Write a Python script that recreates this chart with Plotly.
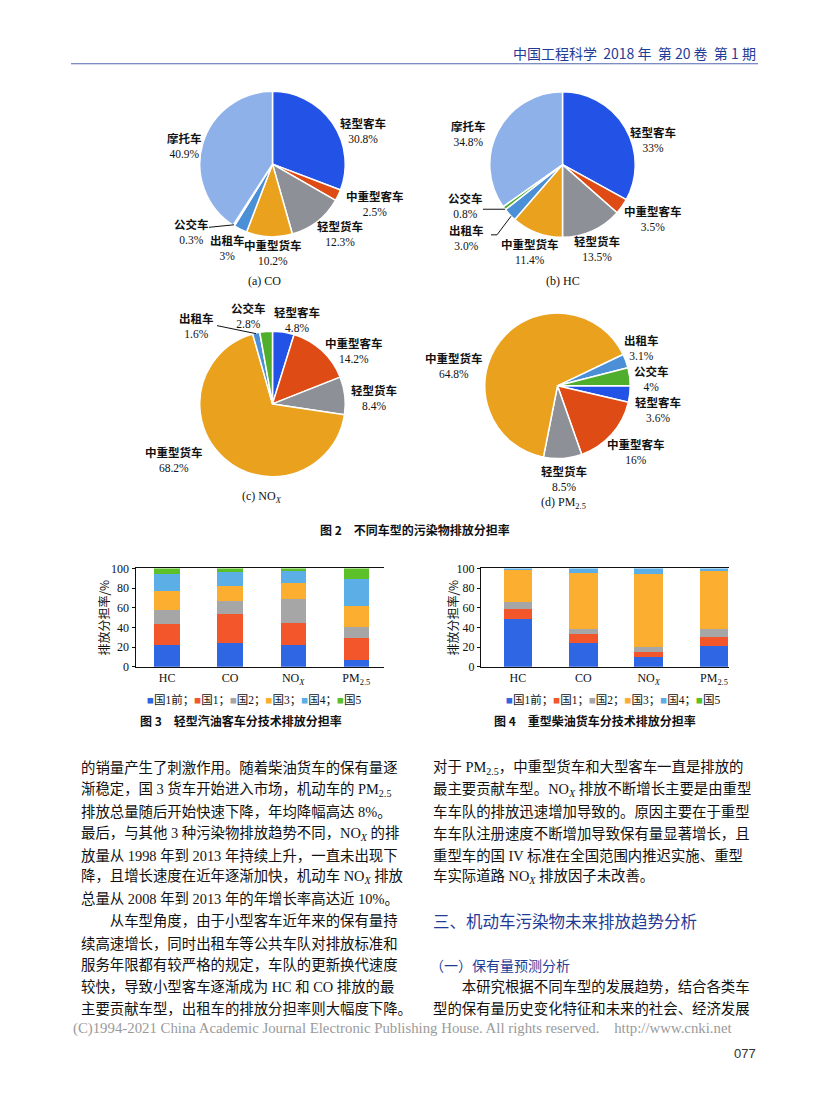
import plotly.graph_objects as go

W, H = 827, 1102

# ---------------- data ----------------
veh7 = ["轻型客车", "中重型客车", "轻型货车", "中重型货车", "出租车", "公交车", "摩托车"]
veh6 = veh7[:6]
co_share = [30.8, 2.5, 12.3, 10.2, 3, 0.3, 40.9]
hc_share = [33, 3.5, 13.5, 11.4, 3.0, 0.8, 34.8]
nox_share = [4.8, 14.2, 8.4, 68.2, 1.6, 2.8]
pm_share = [3.6, 16, 8.5, 64.8, 3.1, 4]

pollutants = ["HC", "CO", "NOX", "PM2.5"]
pollutant_ticks = ["HC", "CO", "NO<sub><i>X</i></sub>", "PM<sub>2.5</sub>"]
stages = ["国1前", "国1", "国2", "国3", "国4", "国5"]
# Fig 3: light gasoline passenger cars (by stage, per pollutant HC, CO, NOX, PM2.5)
gas_g1pre = [22, 24, 22, 7]
gas_g1 = [21, 30, 23, 22]
gas_g2 = [15, 13, 24, 11]
gas_g3 = [19, 15, 16, 22]
gas_g4 = [17, 14, 12, 27]
gas_g5 = [6, 4, 3, 11]
# Fig 4: heavy diesel trucks
die_g1pre = [49, 24, 10, 21]
die_g1 = [10, 9, 5, 9]
die_g2 = [7, 5, 5, 8]
die_g3 = [32, 57, 74, 59]
die_g4 = [2, 5, 6, 3]
die_g5 = [0, 0, 0, 0]
y_ticks = [0, 20, 40, 60, 80, 100]

# ---------------- styles ----------------
veh_colors = ["#2253e6", "#df4b14", "#8d9197", "#eaa11d", "#4b8fd6", "#4fae2c", "#8eb1ea"]
stage_colors = ["#2f66e3", "#f4562c", "#a6a6a6", "#fbae2f", "#5caee6", "#5cc129"]
SERIF = "Liberation Serif, Noto Sans CJK SC"
SANS = "Noto Sans CJK SC"

# page-placement correction (target pixel -> layout pixel)
DX = 7.0
YA, YB = 0.984, 16.4


def px(x):
    return (x - DX) / W


def py(y):
    return 1 - ((y - YB) / YA) / H


fig = go.Figure()


def add_pie(values, labels, cx, cy, r, rotation):
    ry = r / YA
    fig.add_trace(go.Pie(
        values=values, labels=labels, sort=False, direction="clockwise",
        rotation=rotation, textinfo="none", hoverinfo="label+percent",
        marker=dict(colors=veh_colors[:len(values)], line=dict(color="white", width=1.5)),
        domain=dict(x=[px(cx - ry), px(cx + ry)], y=[py(cy + r), py(cy - r)]),
        showlegend=False,
    ))


add_pie(co_share, veh7, 271.5, 165, 72.5, 0)
add_pie(hc_share, veh7, 561.5, 165.5, 72.5, 0)
add_pie(nox_share, veh6, 271.5, 404, 72.5, 0)
add_pie(pm_share, veh6, 556.5, 386, 72.5, 90)

annotations = []


def txt(x, y, s, size=12, family=SERIF, color="#111", xanchor="center", **kw):
    if xanchor == "left":
        x -= 2
    elif xanchor == "right":
        x += 2
    annotations.append(dict(x=px(x), y=py(y), xref="paper", yref="paper", text=s,
                            showarrow=False, xanchor=xanchor, yanchor="middle",
                            font=dict(size=size, family=family, color=color), **kw))


def fmt(v):
    return f"{v}%"


pie_label_pos = {
    "co": [(362, 132), (374, 204.5), (339, 235), (272, 254), (226, 248.5), (190, 232.5), (183, 147)],
    "hc": [(652, 140.5), (652, 220), (596, 250), (528.5, 252.5), (465.5, 239), (465, 206.5), (467.5, 135)],
    "nox": [(296, 320), (353, 351.5), (373, 398.5), (173, 459.5), (195, 326.5), (247, 316.5)],
    "pm": [(657, 410), (635, 451.5), (563, 479), (453, 366.5), (640, 348), (650, 379.5)],
}
for key, vals, labs in [("co", co_share, veh7), ("hc", hc_share, veh7),
                        ("nox", nox_share, veh6), ("pm", pm_share, veh6)]:
    for (x, y), v, lab in zip(pie_label_pos[key], vals, labs):
        txt(x, y, f"<b>{lab}</b><br>{fmt(v)}", size=11.5)

# pie captions
txt(263, 282, "(a) CO", size=12)
txt(562, 282, "(b) HC", size=12)
txt(261, 497, "(c) NO<sub><i>X</i></sub>", size=12)
txt(562, 503, "(d) PM<sub>2.5</sub>", size=12)
txt(414, 529, "<b>图 2　不同车型的污染物排放分担率</b>", size=12, family=SANS)

# leader lines
shapes = []


def seg(x0, y0, x1, y1, color="#111"):
    shapes.append(dict(type="line", xref="paper", yref="paper", x0=px(x0), y0=py(y0),
                       x1=px(x1), y1=py(y1), line=dict(color=color, width=1)))


seg(208, 228, 233, 225.5)
seg(482, 210, 504, 210)
seg(490, 235.5, 496, 235.5)
seg(496, 235.5, 510, 217)
seg(216, 326, 255, 334)

# header
txt(755, 54, "中国工程科学  2018 年  第 20 卷  第 1 期", size=14, family=SANS,
    color="#1f3c97", xanchor="right")
seg(70, 65, 757, 65, color="#5266b0")

# ---------------- stacked bars ----------------
gas = [gas_g1pre, gas_g1, gas_g2, gas_g3, gas_g4, gas_g5]
die = [die_g1pre, die_g1, die_g2, die_g3, die_g4, die_g5]
xs = list(range(len(pollutants)))
for i, st in enumerate(stages):
    fig.add_trace(go.Bar(x=xs, y=gas[i], name=st, marker=dict(color=stage_colors[i], line=dict(width=0)),
                         width=0.4, xaxis="x", yaxis="y", showlegend=False))
    fig.add_trace(go.Bar(x=xs, y=die[i], name=st, marker=dict(color=stage_colors[i], line=dict(width=0)),
                         width=0.44, xaxis="x2", yaxis="y2", showlegend=False))

axis_font = dict(family=SERIF, size=12, color="#111")
xcommon = dict(tickvals=xs, ticktext=pollutant_ticks, showline=True, linecolor="#111",
               linewidth=1, mirror=True, ticks="", tickfont=axis_font, showgrid=False,
               zeroline=False, fixedrange=True)
ycommon = dict(range=[0, 100], tickvals=y_ticks, showline=True, linecolor="#111", linewidth=1,
               ticks="outside", ticklen=3, tickcolor="#111", tickfont=axis_font,
               showgrid=False, zeroline=False, fixedrange=True)

fig.update_layout(
    xaxis=dict(domain=[px(134.5), px(383)], range=[-0.5, 3.44], anchor="y", **xcommon),
    yaxis=dict(domain=[py(666), py(568)], anchor="x", **ycommon),
    xaxis2=dict(domain=[px(480), px(728)], range=[-0.565, 3.23], anchor="y2", **xcommon),
    yaxis2=dict(domain=[py(666), py(568)], anchor="x2", **ycommon),
    barmode="stack",
)

txt(103, 617, "排放分担率/%", size=12, family=SANS, textangle=-90)
txt(452, 617, "排放分担率/%", size=12, family=SANS, textangle=-90)

legend_txt = "".join(
    f'<span style="color:{c}">■</span>{s}{"；" if i < len(stages) - 1 else ""}'
    for i, (s, c) in enumerate(zip(stages, stage_colors)))
txt(253, 699, legend_txt, size=11.5)
txt(612, 699, legend_txt, size=11.5)
txt(240, 720, "<b>图 3　轻型汽油客车分技术排放分担率</b>", size=12, family=SANS)
txt(594, 720, "<b>图 4　重型柴油货车分技术排放分担率</b>", size=12, family=SANS)

# ---------------- body text ----------------
left_lines = [
    "的销量产生了刺激作用。随着柴油货车的保有量逐",
    "渐稳定，国 3 货车开始进入市场，机动车的 PM<sub>2.5</sub>",
    "排放总量随后开始快速下降，年均降幅高达 8%。",
    "最后，与其他 3 种污染物排放趋势不同，NO<sub><i>X</i></sub> 的排",
    "放量从 1998 年到 2013 年持续上升，一直未出现下",
    "降，且增长速度在近年逐渐加快，机动车 NO<sub><i>X</i></sub> 排放",
    "总量从 2008 年到 2013 年的年增长率高达近 10%。",
    "　　从车型角度，由于小型客车近年来的保有量持",
    "续高速增长，同时出租车等公共车队对排放标准和",
    "服务年限都有较严格的规定，车队的更新换代速度",
    "较快，导致小型客车逐渐成为 HC 和 CO 排放的最",
    "主要贡献车型，出租车的排放分担率则大幅度下降。",
]
right_lines = [
    "对于 PM<sub>2.5</sub>，中重型货车和大型客车一直是排放的",
    "最主要贡献车型。NO<sub><i>X</i></sub> 排放不断增长主要是由重型",
    "车车队的排放迅速增加导致的。原因主要在于重型",
    "车车队注册速度不断增加导致保有量显著增长，且",
    "重型车的国 IV 标准在全国范围内推迟实施、重型",
    "车实际道路 NO<sub><i>X</i></sub> 排放因子未改善。",
]
y0, dy = 767, 21.8
for k, s in enumerate(left_lines):
    txt(80, y0 + k * dy, s, size=14.4, xanchor="left")
for k, s in enumerate(right_lines):
    txt(432, y0 + k * dy, s, size=14.4, xanchor="left")
txt(432, 919, "三、机动车污染物未来排放趋势分析", size=16.5, family=SANS, color="#1f3c97", xanchor="left")
txt(429, y0 + 9 * dy, "（一）保有量预测分析", size=14, family=SANS, color="#1f3c97", xanchor="left")
txt(432, y0 + 10 * dy, "　　本研究根据不同车型的发展趋势，结合各类车", size=14.4, xanchor="left")
txt(432, y0 + 11 * dy, "型的保有量历史变化特征和未来的社会、经济发展", size=14.4, xanchor="left")

txt(72, 1027, "(C)1994-2021 China Academic Journal Electronic Publishing House. All rights reserved.    http://www.cnki.net",
    size=14.8, family="Liberation Serif", color="#9a9a9a", xanchor="left")
txt(755, 1051, "077", size=13, family="Liberation Sans", color="#333", xanchor="right")

fig.update_layout(
    width=W, height=H, margin=dict(l=0, r=0, t=0, b=0),
    paper_bgcolor="white", plot_bgcolor="white",
    annotations=annotations, shapes=shapes,
)

fig.write_html("out.html")
